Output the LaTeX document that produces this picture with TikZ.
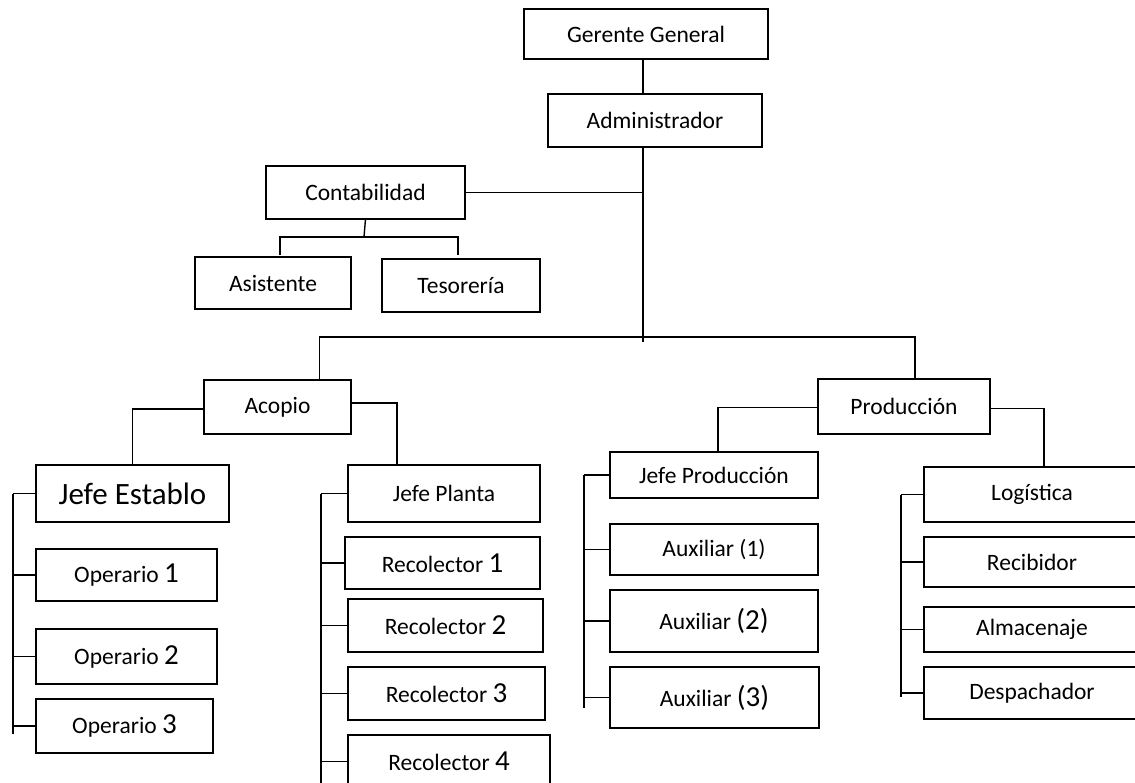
\documentclass[tikz,border=0pt]{standalone}
\usepackage{fontspec}
\setmainfont{Carlito}
\usetikzlibrary{positioning}
\newcommand{\boxfont}{\fontsize{23.5}{28}\selectfont}
\newcommand{\numfont}{\fontsize{29}{32}\selectfont}
\newcommand{\headfont}{\fontsize{31}{34}\selectfont}
\tikzset{
  post/.style={rectangle, draw=black, fill=white, line width=2.7pt,
    inner sep=0pt, outer sep=0pt, font=\boxfont},
  link/.style={line width=1.4pt, color=black}
}

\begin{document}
\begin{tikzpicture}[x=1pt, y=-1pt]
  \useasboundingbox (0,0) rectangle (1135,782);
  \clip (0,0) rectangle (1135,782);

  % top of the chart
  \node[post, minimum width=244pt, minimum height=50pt] (gg) at (646,34) {Gerente General};
  \node[post, minimum width=214pt, minimum height=53pt] (adm) at (655,120.5) {Administrador};
  \node[post, minimum width=199pt, minimum height=53pt] (cont) at (365.5,192.5) {Contabilidad};
  \node[post, minimum width=156pt, minimum height=52pt] (asis) at (273,283) {Asistente};
  \node[post, minimum width=158pt, minimum height=53pt] (teso) at (461,285.5) {Tesorería};
  \node[post, minimum width=147pt, minimum height=54pt] (acop) at (277.5,407) {Acopio};
  \node[post, minimum width=172pt, minimum height=55pt] (prod) at (904,406.5) {Producción};

  \coordinate (trunk) at (643,337);
  \coordinate (cbus) at (364,237);

  % Acopio side
  \node[post, minimum width=193pt, minimum height=57pt, font=\headfont] (jest) at (132.5,493.5) {Jefe Establo};
  \node[post, minimum width=181pt, minimum height=52pt, below right=27pt and 0pt of jest.south west] (op1) {Operario {\numfont 1}};
  \node[post, minimum width=181pt, minimum height=55pt, below right=28pt and 0pt of op1.south west] (op2) {Operario {\numfont 2}};
  \node[post, minimum width=177pt, minimum height=54pt, below right=15pt and 0pt of op2.south west] (op3) {Operario {\numfont 3}};

  \node[post, minimum width=192pt, minimum height=57pt] (jpl) at (444,493.5) {Jefe Planta};
  \node[post, minimum width=195pt, minimum height=52pt, below right=15pt and -3pt of jpl.south west] (rec1) {Recolector {\numfont 1}};
  \node[post, minimum width=195pt, minimum height=53pt, below right=10pt and 3pt of rec1.south west] (rec2) {Recolector {\numfont 2}};
  \node[post, minimum width=197pt, minimum height=53pt, below right=15pt and 0pt of rec2.south west] (rec3) {Recolector {\numfont 3}};
  \node[post, minimum width=202pt, minimum height=53pt, below right=15pt and 0pt of rec3.south west] (rec4) {Recolector {\numfont 4}};

  % Produccion side
  \node[post, minimum width=208pt, minimum height=46pt] (jprod) at (714,475) {Jefe Producción};
  \node[post, minimum width=208pt, minimum height=51pt, below right=26pt and 0pt of jprod.south west] (aux1) {Auxiliar (1)};
  \node[post, minimum width=208pt, minimum height=62pt, below right=15pt and 0pt of aux1.south west] (aux2) {Auxiliar {\numfont (2)}};
  \node[post, minimum width=209pt, minimum height=61pt, below right=15pt and 0pt of aux2.south west] (aux3) {Auxiliar {\numfont (3)}};

  \node[post, minimum width=216pt, minimum height=55pt] (log) at (1032,494.5) {Logística};
  \node[post, minimum width=216pt, minimum height=50pt, below right=15pt and 0pt of log.south west] (recb) {Recibidor};
  \node[post, minimum width=216pt, minimum height=45pt, below right=20pt and 0pt of recb.south west] (alm) {Almacenaje};
  \node[post, minimum width=216pt, minimum height=52pt, below right=15pt and 0pt of alm.south west] (desp) {Despachador};

  % connectors
  \draw[link] (gg.south -| trunk) -- (adm.north -| trunk);
  \draw[link] (adm.south -| trunk) -- ([yshift=-5pt]trunk);
  \draw[link] (cont.east) -- (cont.east -| trunk);
  \draw[link] (cont.south) -- (cbus);
  \draw[link] ([xshift=7pt, yshift=2pt]asis.north) |- (cbus) -| ([xshift=-3pt, yshift=4pt]teso.north);
  \draw[link] ([xshift=42pt]acop.north) |- (trunk) -| ([xshift=11pt]prod.north);
  \draw[link] ([yshift=-2pt]acop.west) -| (jest.north);
  \draw[link] ([yshift=4pt]acop.east) -| ([xshift=-47pt]jpl.north);
  \draw[link] ([yshift=-1pt]prod.west) -| ([xshift=4pt]jprod.north);
  \draw[link] ([yshift=-2pt]prod.east) -| ([xshift=12pt]log.north);

  % side buses
  \coordinate (busA) at (13,734);
  \coordinate (busB) at (321,790);
  \coordinate (busC) at (584,708);
  \coordinate (busD) at (901,697);
  \draw[link] (jest.west -| busA) -- (busA);
  \draw[link] (jpl.west -| busB) -- (busB);
  \draw[link] (jprod.west -| busC) -- (busC);
  \draw[link] (log.west -| busD) -- (busD);
  \foreach \n in {jest,op1,op2,op3} \draw[link] (\n.west) -- (\n.west -| busA);
  \foreach \n in {jpl,rec1,rec2,rec3,rec4} \draw[link] (\n.west) -- (\n.west -| busB);
  \foreach \n in {jprod,aux1,aux2,aux3} \draw[link] (\n.west) -- (\n.west -| busC);
  \foreach \n in {log,recb,alm,desp} \draw[link] (\n.west) -- (\n.west -| busD);
\end{tikzpicture}
\end{document}
